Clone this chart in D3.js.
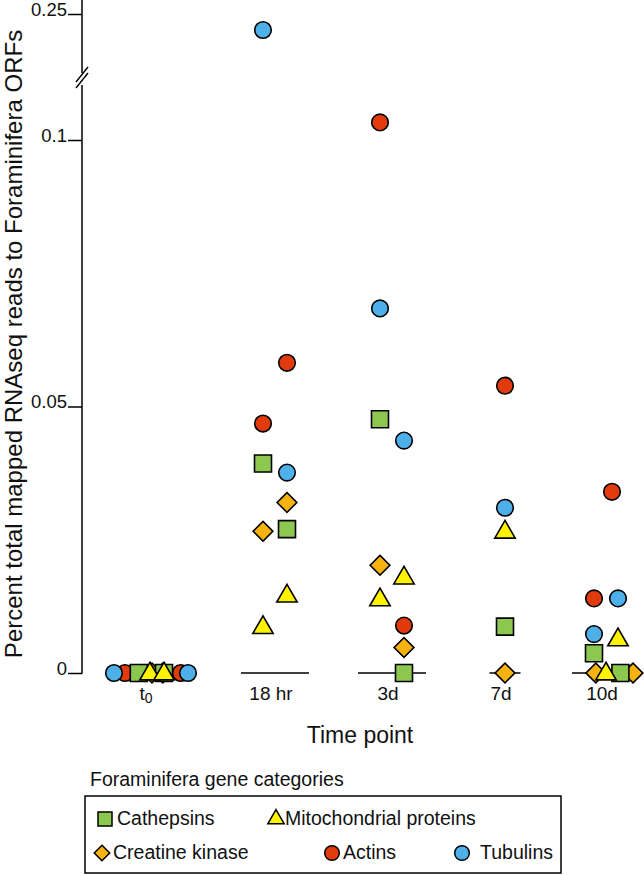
<!DOCTYPE html>
<html>
<head>
<meta charset="utf-8">
<script src="https://cdn.jsdelivr.net/npm/d3@7"></script>
<style>
  html, body { margin: 0; padding: 0; background: #fff; }
  svg { display: block; font-family: "Liberation Sans", Arial, Helvetica, sans-serif; }
</style>
</head>
<body>
<svg id="chart" width="644" height="875"></svg>
<script>
// ---------------- DATA ----------------
const timepoints = ["t0", "18 hr", "3d", "7d", "10d"];
const categories = ["Cathepsins", "Mitochondrial proteins", "Creatine kinase", "Actins", "Tubulins"];
const yTicksLower = [0, 0.05, 0.1];
const yTicksUpper = [0.25];

// values per time point: [replicate A, replicate B]
const cathepsins     = [[0, 0], [0.0393, 0.0270], [0.0476, 0], [0.0087], [0.0037, 0]];
const mitochondrial  = [[0, 0], [0.0087, 0.0146], [0.0139, 0.0180], [0.0266], [0, 0.0064]];
const creatineKinase = [[0, 0], [0.0266, 0.0320], [0.0202, 0.0048], [0], [0, 0]];
const actins         = [[0, 0], [0.0468, 0.0582], [0.1033, 0.0089], [0.0539], [0.0140, 0.0340]];
const tubulins       = [[0, 0], [0.2470, 0.0376], [0.0684, 0.0436], [0.0310], [0.0073, 0.0140]];

// horizontal dodge slot of each point (same shape as the values)
const cathepsinSlots     = [[-1.1, 1.0], [-1, 1], [-1, 1], [0], [-1, 1.2]];
const mitochondrialSlots = [[-0.17, 1.0], [-1, 1], [-1, 1], [0], [0, 1]];
const creatineSlots      = [[0, 0.9], [-1, 1], [-1, 1], [0], [-0.85, 2.25]];
const actinSlots         = [[-2.25, 2.4], [-1, 1], [-1, 1], [0], [-1, 0.5]];
const tubulinSlots       = [[-3.17, 3.0], [-1, 1], [-1, 1], [0], [-1, 1]];

const colors = {
  "Cathepsins": "#8cc84f",
  "Mitochondrial proteins": "#fff200",
  "Creatine kinase": "#f6b30f",
  "Actins": "#e13a0c",
  "Tubulins": "#4eb0e9"
};

// ---------------- LAYOUT ----------------
const svg = d3.select("#chart");
const axisX = 82;
const x = d3.scaleOrdinal().domain(timepoints).range([152, 275, 392, 505, 606]);
const slotW = 12;
const yLow = d3.scaleLinear().domain([0, 0.1]).range([673, 140]);
const yHigh = d3.scaleLinear().domain([0.24, 0.25]).range([67.4, 14]);
const yOf = v => v > 0.2 ? yHigh(v) : yLow(v);

const shapes = {
  "Cathepsins": { type: d3.symbolSquare, size: 17 * 17, rot: 0 },
  "Mitochondrial proteins": { type: d3.symbolTriangle, size: 180, rot: 0 },
  "Creatine kinase": { type: d3.symbolSquare, size: 14 * 14, rot: 45 },
  "Actins": { type: d3.symbolCircle, size: Math.PI * 8.3 * 8.3, rot: 0 },
  "Tubulins": { type: d3.symbolCircle, size: Math.PI * 8.3 * 8.3, rot: 0 }
};

// zero-level segments
const g = svg.append("g");
timepoints.forEach((t, i) => {
  const n = cathepsins[i].length;
  const hw = n === 1 ? 15.5 : 34;
  g.append("line")
    .attr("x1", x(t) - hw).attr("x2", x(t) + hw)
    .attr("y1", yLow(0)).attr("y2", yLow(0))
    .attr("stroke", "#000").attr("stroke-width", 1.5);
});

// y axis
const lowAxis = d3.axisLeft(yLow).tickValues(yTicksLower).tickSize(14).tickPadding(1)
  .tickFormat(d => String(d));
const highAxis = d3.axisLeft(yHigh).tickValues(yTicksUpper).tickSize(14).tickPadding(1)
  .tickFormat(d => String(d));
[lowAxis, highAxis].forEach(ax => {
  const ga = svg.append("g").attr("transform", `translate(${axisX},0)`).call(ax);
  ga.select(".domain").remove();
  ga.selectAll(".tick line").attr("stroke", "#000").attr("stroke-width", 1.5);
  ga.selectAll(".tick text").attr("dy", null).attr("y", 1)
    .attr("font-size", 18.5).attr("fill", "#111")
    .attr("font-family", "'Liberation Sans', Arial, sans-serif");
});
// axis line with break
svg.append("line").attr("x1", axisX).attr("x2", axisX).attr("y1", 0).attr("y2", 73)
  .attr("stroke", "#000").attr("stroke-width", 1.5);
svg.append("line").attr("x1", axisX).attr("x2", axisX).attr("y1", 85).attr("y2", yLow(0) + 0.75)
  .attr("stroke", "#000").attr("stroke-width", 1.5);
[[0, 0], [0, 6]].forEach(([dx, dy]) => {
  svg.append("line")
    .attr("x1", axisX - 6 + dx).attr("y1", 82 + dy)
    .attr("x2", axisX + 6 + dx).attr("y2", 67 + dy)
    .attr("stroke", "#000").attr("stroke-width", 1.4);
});

// points
const series = [
  ["Creatine kinase", creatineKinase, creatineSlots],
  ["Actins", actins, actinSlots],
  ["Cathepsins", cathepsins, cathepsinSlots],
  ["Mitochondrial proteins", mitochondrial, mitochondrialSlots],
  ["Tubulins", tubulins, tubulinSlots]
];
const pts = [];
series.forEach(([name, vals, slots]) => {
  vals.forEach((reps, i) => {
    reps.forEach((v, j) => {
      pts.push({ name, t: timepoints[i], v, slot: slots[i][j] });
    });
  });
});
svg.append("g").selectAll("path").data(pts).join("path")
  .attr("d", d => d3.symbol().type(shapes[d.name].type).size(shapes[d.name].size)())
  .attr("transform", d => `translate(${x(d.t) + d.slot * slotW},${yOf(d.v) + (d.name === "Mitochondrial proteins" ? 1 : 0)}) rotate(${shapes[d.name].rot})`)
  .attr("fill", d => colors[d.name])
  .attr("stroke", "#000").attr("stroke-width", 1.6);

// x labels
const xl = svg.append("g").attr("font-size", 19).attr("fill", "#111");
timepoints.forEach(t => {
  if (t === "t0") {
    const tx = xl.append("text").attr("x", x(t) - 6).attr("y", 700).attr("text-anchor", "middle");
    tx.append("tspan").text("t");
    tx.append("tspan").attr("font-size", 14).attr("dy", 3).text("0");
  } else {
    xl.append("text").attr("x", x(t) - 4).attr("y", 700).attr("text-anchor", "middle").text(t);
  }
});

// axis titles
svg.append("text").attr("x", 360).attr("y", 743).attr("text-anchor", "middle")
  .attr("font-size", 23).attr("fill", "#111").text("Time point");
svg.append("text").attr("transform", "rotate(-90)")
  .attr("x", -344).attr("y", 22).attr("text-anchor", "middle")
  .attr("font-size", 24).attr("fill", "#111")
  .text("Percent total mapped RNAseq reads to Foraminifera ORFs");

// legend
svg.append("text").attr("x", 90).attr("y", 786).attr("font-size", 19.5).attr("fill", "#111")
  .text("Foraminifera gene categories");
svg.append("rect").attr("x", 85).attr("y", 796).attr("width", 476).attr("height", 77)
  .attr("fill", "none").attr("stroke", "#000").attr("stroke-width", 1.5);
const legendItems = [
  { name: "Cathepsins", label: "Cathepsins", mx: 105, tx: 117, y: 825, size: 14 * 14 },
  { name: "Mitochondrial proteins", label: "Mitochondrial proteins", mx: 276, tx: 285, y: 825, size: 115 },
  { name: "Creatine kinase", label: "Creatine kinase", mx: 102, tx: 113, y: 859, size: 11 * 11 },
  { name: "Actins", label: "Actins", mx: 332, tx: 343, y: 859, size: Math.PI * 7.3 * 7.3 },
  { name: "Tubulins", label: "Tubulins", mx: 462, tx: 480, y: 859, size: Math.PI * 7.3 * 7.3 }
];
const lg = svg.append("g");
legendItems.forEach(it => {
  lg.append("path")
    .attr("d", d3.symbol().type(shapes[it.name].type).size(it.size)())
    .attr("transform", `translate(${it.mx},${it.y - 6}) rotate(${shapes[it.name].rot})`)
    .attr("fill", colors[it.name]).attr("stroke", "#000").attr("stroke-width", 1.5);
  lg.append("text").attr("x", it.tx).attr("y", it.y).attr("font-size", 19.5).attr("fill", "#111")
    .text(it.label);
});
</script>
</body>
</html>
